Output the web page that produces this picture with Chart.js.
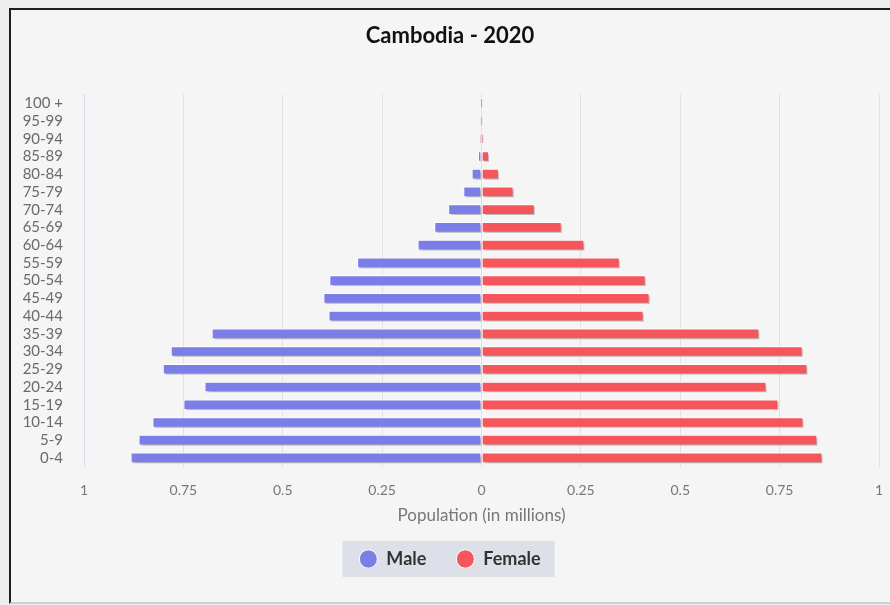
<!DOCTYPE html>
<html>
<head>
<meta charset="utf-8">
<script src="https://cdn.jsdelivr.net/npm/chart.js@4/dist/chart.umd.min.js"></script>
<style>
  html, body { margin: 0; padding: 0; }
  body { width: 890px; height: 605px; background: #eeeeee; position: relative; overflow: hidden; }
  #frame { position: absolute; left: 9px; top: 8px; width: 900px; height: 592px;
           background: #f5f5f5; border-left: 2px solid #1e1e1e; border-top: 2px solid #1e1e1e;
           border-bottom: 2px solid #cfcfcf; }
  #wrap { position: absolute; left: 0; top: 0; width: 890px; height: 605px; }
</style>
</head>
<body>
<div id="frame"></div>
<div id="wrap"><canvas id="c" width="890" height="605"></canvas></div>
<script>
const titleText = 'Cambodia - 2020';
const axisTitle = 'Population (in millions)';
const ageGroups = ['100 +','95-99','90-94','85-89','80-84','75-79','70-74','65-69','60-64','55-59',
                   '50-54','45-49','40-44','35-39','30-34','25-29','20-24','15-19','10-14','5-9','0-4'];
const maleValues = [0.0002,0.0005,0.002,0.008,0.024,0.045,0.083,0.118,0.160,0.312,
                    0.382,0.397,0.384,0.678,0.781,0.801,0.696,0.749,0.827,0.862,0.882];
const femaleValues = [0.0003,0.001,0.005,0.018,0.043,0.080,0.133,0.201,0.258,0.347,
                      0.412,0.422,0.407,0.698,0.807,0.819,0.716,0.746,0.809,0.844,0.857];
const xTicks = [-1,-0.75,-0.5,-0.25,0,0.25,0.5,0.75,1];

const FONT = 'Lato, "Noto Sans", sans-serif';

const shadowPlugin = {
  id: 'barShadow',
  beforeDatasetsDraw(chart) {
    const ctx = chart.ctx;
    ctx.save();
    ctx.shadowColor = 'rgba(0,0,0,0.28)';
    ctx.shadowOffsetX = 2;
    ctx.shadowOffsetY = 2;
    ctx.shadowBlur = 2;
  },
  afterDatasetsDraw(chart) { chart.ctx.restore(); }
};

const legendBoxPlugin = {
  id: 'legendBox',
  beforeDraw(chart) {
    const lg = chart.legend;
    if (!lg || !lg.legendHitBoxes || !lg.legendHitBoxes.length) return;
    const hb = lg.legendHitBoxes;
    const left = Math.min(...hb.map(h => h.left)) - 17;
    const right = Math.max(...hb.map(h => h.left + h.width)) + 14;
    const cy = hb[0].top + hb[0].height / 2;
    const ctx = chart.ctx;
    ctx.save();
    ctx.fillStyle = '#dde0e9';
    ctx.fillRect(left, cy - 18, right - left, 36);
    ctx.restore();
  }
};

new Chart(document.getElementById('c'), {
  type: 'bar',
  data: {
    labels: ageGroups,
    datasets: [
      { label: 'Male', data: maleValues.map(v => -v), backgroundColor: '#7b7ee7', borderColor: '#ffffff',
        borderWidth: 1, barThickness: 10, borderSkipped: false },
      { label: 'Female', data: femaleValues, backgroundColor: '#f4565c', borderColor: '#ffffff',
        borderWidth: 1, barThickness: 10, borderSkipped: false }
    ]
  },
  plugins: [shadowPlugin, legendBoxPlugin],
  options: {
    indexAxis: 'y',
    responsive: false,
    animation: false,
    layout: { padding: { left: 21, top: 10, right: 11, bottom: 27 } },
    plugins: {
      title: { display: true, text: titleText, color: '#111',
               font: { family: FONT, size: 22, weight: 'bold' }, padding: { top: 13, bottom: 45 } },
      legend: {
        position: 'bottom',
        labels: { usePointStyle: true, pointStyle: 'circle', boxHeight: 13, pointStyleWidth: 18,
                  color: '#333', padding: 30, font: { family: FONT, size: 18, weight: 'bold' } }
      },
      tooltip: { enabled: false }
    },
    scales: {
      x: {
        stacked: true, min: -1, max: 1,
        afterBuildTicks(scale) { scale.ticks = xTicks.map(v => ({ value: v })); },
        ticks: { callback: v => String(Math.abs(v)), color: '#777', padding: 0,
                 font: { family: FONT, size: 14 } },
        grid: { color: '#e2e2e2', drawTicks: true, tickLength: 15, tickColor: 'rgba(0,0,0,0)' },
        border: { display: false },
        title: { display: true, text: axisTitle, color: '#777', font: { family: FONT, size: 17 },
                 padding: { top: 7, bottom: -6 } }
      },
      y: {
        stacked: true,
        afterFit(scale) { scale.width = 63; },
        ticks: { color: '#6a6a6a', padding: 21, autoSkip: false, font: { family: FONT, size: 15 } },
        grid: { display: false, drawTicks: false },
        border: { display: true, color: '#d3dcea' }
      }
    }
  }
});
</script>
</body>
</html>
